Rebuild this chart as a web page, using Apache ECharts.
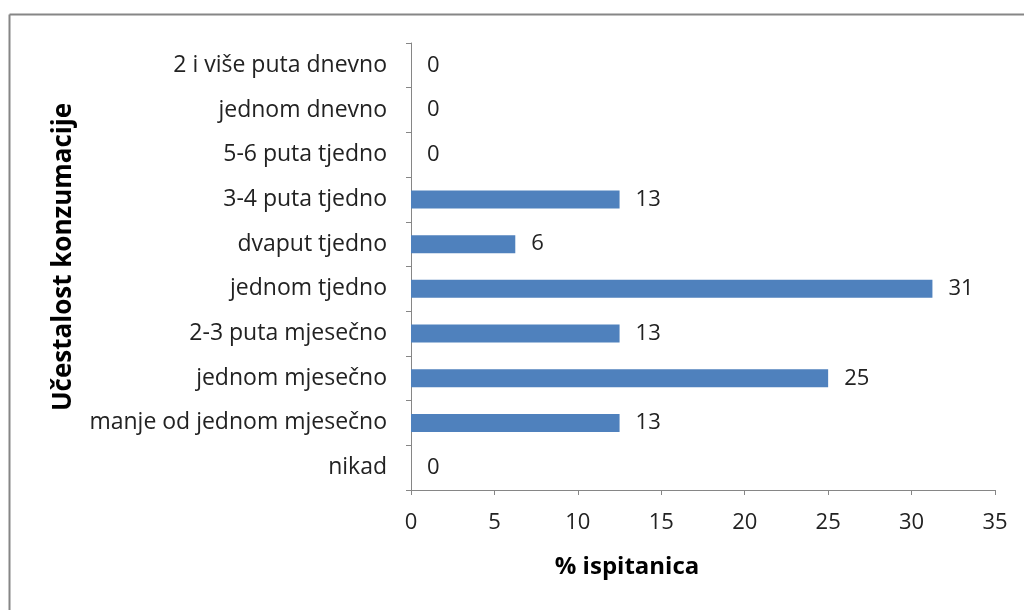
<!DOCTYPE html>
<html><head><meta charset="utf-8">
<script src="https://cdn.jsdelivr.net/npm/echarts@6/dist/echarts.min.js"></script>
<style>html,body{margin:0;padding:0;background:#fff}#c{width:1024px;height:610px}</style>
</head><body><div id="c"></div>
<script>
const categories = ["nikad","manje od jednom mjesečno","jednom mjesečno","2-3 puta mjesečno","jednom tjedno","dvaput tjedno","3-4 puta tjedno","5-6 puta tjedno","jednom dnevno","2 i više puta dnevno"];
const values = [0, 12.5, 25, 12.5, 31.25, 6.25, 12.5, 0, 0, 0];
const xTicks = [0, 5, 10, 15, 20, 25, 30, 35];
const yTitle = "Učestalost konzumacije";
const xTitle = "% ispitanica";

const FONT = "'Open Sans', 'Noto Sans', sans-serif";
const chart = echarts.init(document.getElementById('c'), null, {renderer: 'canvas'});
chart.setOption({
  animation: false,
  backgroundColor: '#fff',
  grid: {left: 411, right: 29, top: 43, bottom: 120, containLabel: false},
  xAxis: {
    type: 'value', min: xTicks[0], max: xTicks[xTicks.length-1], interval: 5,
    axisLine: {show: true, lineStyle: {color: '#868686'}},
    axisTick: {show: true, length: 5, lineStyle: {color: '#868686'}},
    splitLine: {show: false},
    axisLabel: {color: '#222', fontSize: 22, fontFamily: FONT, margin: 22}
  },
  yAxis: {
    type: 'category', data: categories,
    axisLine: {show: true, lineStyle: {color: '#868686'}},
    axisTick: {show: true, length: 5, lineStyle: {color: '#868686'}},
    axisLabel: {color: '#222', fontSize: 23, fontFamily: FONT, margin: 24, padding: [3, 0, 0, 0]}
  },
  series: [{
    type: 'bar', data: values, barWidth: 18,
    itemStyle: {color: '#4F81BD'},
    label: {show: true, position: 'right', distance: 16, color: '#222', fontSize: 22, fontFamily: FONT,
      formatter: p => String(Math.round(p.value))}
  }],
  graphic: [
    {type: 'line', shape: {x1: 9.5, y1: 14.5, x2: 1030, y2: 14.5}, style: {stroke: '#868686', lineWidth: 2}},
    {type: 'line', shape: {x1: 9.5, y1: 14.5, x2: 9.5, y2: 620}, style: {stroke: '#868686', lineWidth: 2}},
    {type: 'text', x: 627, y: 567, style: {text: xTitle, font: "bold 24px " + FONT, fill: '#000', align: 'center', verticalAlign: 'middle'}},
    {type: 'text', x: 64, y: 257, rotation: Math.PI/2, style: {text: yTitle, font: "bold 26px " + FONT, fill: '#000', align: 'center', verticalAlign: 'middle'}}
  ]
});
</script></body></html>
